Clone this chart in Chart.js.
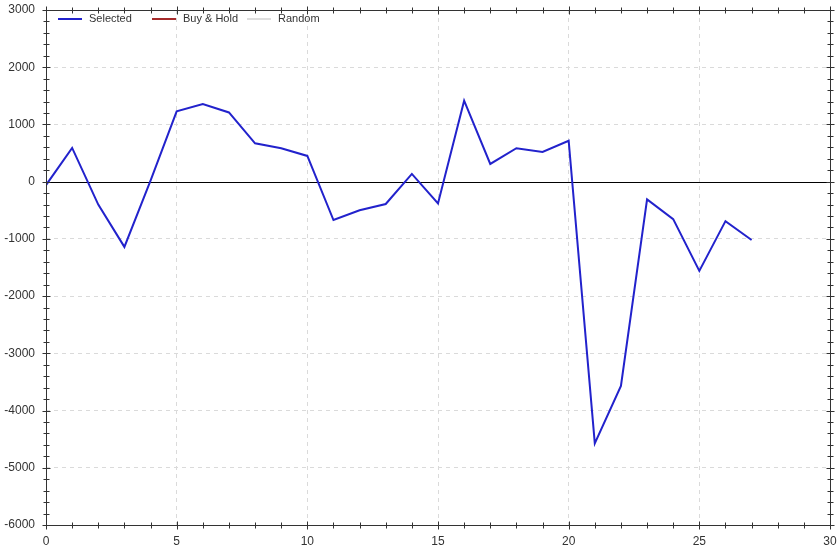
<!DOCTYPE html>
<html><head><meta charset="utf-8">
<script src="https://cdn.jsdelivr.net/npm/chart.js@4.4.1/dist/chart.umd.min.js"></script>
<style>html,body{margin:0;padding:0;background:#fff;}</style>
</head><body>
<canvas id="c" width="839" height="549"></canvas>
<script>
// ---- data ----
const xValues = [0,1,2,3,4,5,6,7,8,9,10,11,12,13,14,15,16,17,18,19,20,21,22,23,24,25,26,27];
const selectedValues = [-60, 590, -400, -1140, 20, 1230, 1355, 1210, 670, 585, 450, -670, -500, -390, 135, -380, 1415, 310, 585, 520, 715, -4575, -3570, -310, -655, -1560, -690, -1020];
const buyHoldValues = [];
const randomValues = [];
const seriesNames = ['Selected', 'Buy & Hold', 'Random'];
const xTickRange = [0, 30, 5];
const yTickRange = [-6000, 3000, 1000];

const toPoints = (vals) => vals.map((v, i) => ({x: xValues[i], y: v}));
const FONT = '"Liberation Sans", Arial, sans-serif';
const legendX = [58, 152, 247];

const framePlugin = {
  id: 'frame',
  beforeDatasetsDraw(chart) {
    const {ctx, chartArea: a, scales: {y}} = chart;
    const py = Math.round(y.getPixelForValue(0)) + 0.5;
    ctx.save();
    ctx.strokeStyle = '#000'; ctx.lineWidth = 1;
    ctx.beginPath(); ctx.moveTo(a.left, py); ctx.lineTo(a.right, py); ctx.stroke();
    ctx.restore();
  },
  afterDatasetsDraw(chart) {
    const {ctx, chartArea: a, scales: {x, y}} = chart;
    ctx.save();
    ctx.strokeStyle = '#333'; ctx.lineWidth = 1;
    const L = Math.round(a.left) + 0.5, R = Math.round(a.right) + 0.5;
    const T = Math.round(a.top) + 0.5, B = Math.round(a.bottom) + 0.5;
    ctx.beginPath();
    ctx.rect(L, T, R - L, B - T);
    for (let v = xTickRange[0]; v <= xTickRange[1]; v += 1) {
      const px = Math.round(x.getPixelForValue(v)) + 0.5;
      const len = v % xTickRange[2] === 0 ? 4 : 3;
      ctx.moveTo(px, B - len); ctx.lineTo(px, B + len);
      ctx.moveTo(px, T - len); ctx.lineTo(px, T + len);
    }
    for (let v = yTickRange[0]; v <= yTickRange[1]; v += 200) {
      const py = Math.round(y.getPixelForValue(v)) + 0.5;
      const len = v % yTickRange[2] === 0 ? 4 : 3;
      ctx.moveTo(L - len, py); ctx.lineTo(L + len, py);
      ctx.moveTo(R - len, py); ctx.lineTo(R + len, py);
    }
    ctx.stroke();
    // legend (inside plot area, horizontal)
    ctx.font = '11px ' + FONT;
    ctx.textBaseline = 'middle';
    ctx.textAlign = 'left';
    const ly = a.top + 9;
    chart.data.datasets.forEach((ds, i) => {
      const lx = legendX[i];
      ctx.fillStyle = ds.borderColor;
      ctx.fillRect(lx, ly - 1, 24, 2);
      ctx.fillStyle = '#333';
      ctx.fillText(ds.label, lx + 31, ly);
    });
    ctx.restore();
  }
};

new Chart(document.getElementById('c'), {
  type: 'line',
  data: {
    datasets: [
      {label: seriesNames[0], data: toPoints(selectedValues), borderColor: '#2222cc', backgroundColor: '#2222cc', borderWidth: 2, pointRadius: 0, tension: 0},
      {label: seriesNames[1], data: toPoints(buyHoldValues), borderColor: '#a52a2a', backgroundColor: '#a52a2a', borderWidth: 2, pointRadius: 0},
      {label: seriesNames[2], data: toPoints(randomValues), borderColor: '#dedede', backgroundColor: '#dedede', borderWidth: 2, pointRadius: 0}
    ]
  },
  options: {
    responsive: false,
    animation: false,
    devicePixelRatio: 1,
    layout: {padding: {top: 10, right: 9, left: 0, bottom: 0}},
    plugins: {
      legend: {display: false},
      tooltip: {enabled: false}
    },
    scales: {
      x: {
        type: 'linear', min: xTickRange[0], max: xTickRange[1],
        ticks: {stepSize: xTickRange[2], color: '#333', font: {family: FONT, size: 12}, padding: 9, callback: (v) => String(v)},
        grid: {drawTicks: false, color: (c) => (c.tick && (c.tick.value === xTickRange[0] || c.tick.value === xTickRange[1])) ? 'rgba(0,0,0,0)' : '#dadada'},
        border: {display: false, dash: [4, 4]},
        afterFit: (s) => { s.height = 24; s.paddingLeft = 0; s.paddingRight = 0; }
      },
      y: {
        type: 'linear', min: yTickRange[0], max: yTickRange[1],
        ticks: {stepSize: yTickRange[2], color: '#333', font: {family: FONT, size: 12}, padding: 11, callback: (v) => String(v)},
        grid: {drawTicks: false, color: (c) => (c.tick && (c.tick.value === 0 || c.tick.value === yTickRange[0] || c.tick.value === yTickRange[1])) ? 'rgba(0,0,0,0)' : '#dadada'},
        border: {display: false, dash: [4, 4]},
        afterFit: (s) => { s.width = 46; s.paddingTop = 0; s.paddingBottom = 0; }
      }
    }
  },
  plugins: [framePlugin]
});
</script>
</body></html>
